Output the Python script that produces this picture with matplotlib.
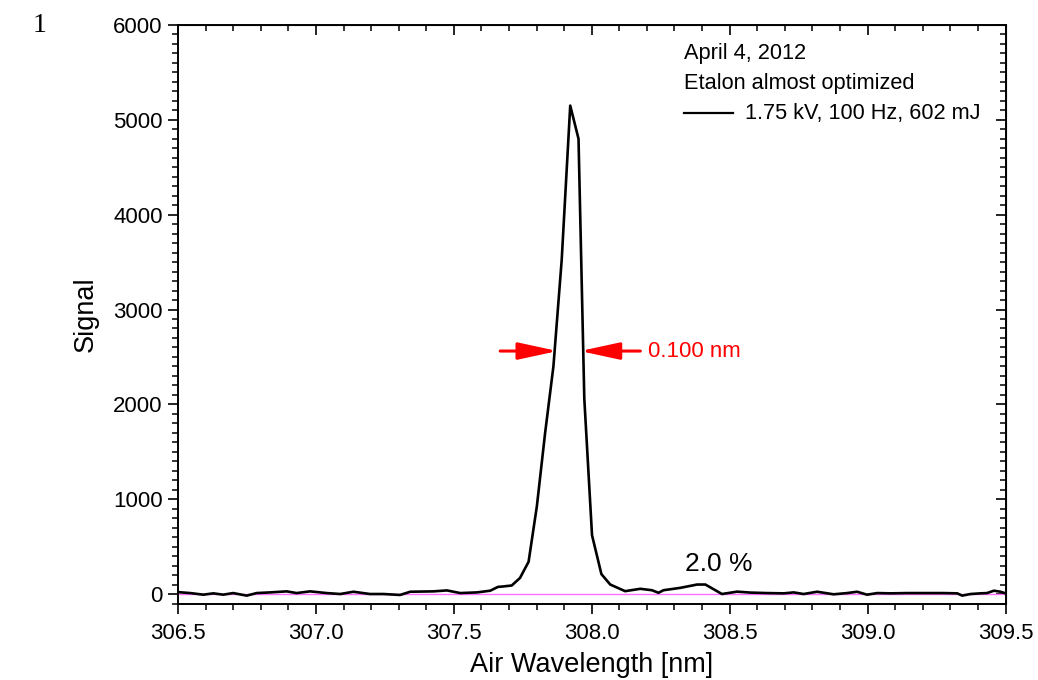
import matplotlib
matplotlib.use("Agg")
import matplotlib.pyplot as plt
from matplotlib.lines import Line2D
from matplotlib.ticker import MultipleLocator

plt.rcParams['font.family'] = ['Liberation Sans', 'DejaVu Sans']

wavelength = [306.50, 306.544, 306.592, 306.628, 306.664, 306.70, 306.749, 306.785,
              306.834, 306.894, 306.93, 306.979, 307.039, 307.088, 307.136, 307.196,
              307.245, 307.305, 307.342, 307.426, 307.475, 307.523, 307.584, 307.632,
              307.66, 307.68, 307.71, 307.74, 307.771, 307.801, 307.831, 307.861,
              307.891, 307.922, 307.952, 307.973, 308.001, 308.035, 308.067, 308.121,
              308.176, 308.218, 308.242, 308.26, 308.321, 308.382, 308.412, 308.472,
              308.527, 308.575, 308.636, 308.696, 308.732, 308.768, 308.817, 308.877,
              308.926, 308.962, 308.998, 309.035, 309.083, 309.143, 309.204, 309.276,
              309.325, 309.343, 309.373, 309.409, 309.433, 309.458, 309.482, 309.50]
signal = [20, 10, -7, 7, -7, 10, -17, 10,
          17, 28, 10, 28, 10, 0, 24, 0,
          0, -10, 24, 28, 38, 10, 17, 35,
          75, 80, 90, 170, 340, 925, 1700, 2400,
          3520, 5150, 4800, 2060, 620, 210, 100, 30,
          55, 40, 13, 40, 65, 100, 100, 0,
          25, 15, 10, 7, 17, 0, 24, -3,
          10, 24, -7, 10, 7, 10, 10, 10,
          7, -17, 0, 7, 10, 35, 24, 7]

legend_lines = ["April 4, 2012", "Etalon almost optimized"]
series_label = "1.75 kV, 100 Hz, 602 mJ"
fwhm_text = "0.100 nm"
ratio_text = "2.0 %"
xticks = [306.5, 307.0, 307.5, 308.0, 308.5, 309.0, 309.5]
yticks = [0, 1000, 2000, 3000, 4000, 5000, 6000]

# annotation geometry
half_max = 2562
left_arrow = (307.668, 307.876)
right_arrow = (308.176, 307.958)

W, H = 1038, 680
fig = plt.figure(figsize=(W / 100, H / 100), dpi=100)
ax = fig.add_axes([178 / W, 1 - 603.5 / H, (1005.5 - 178) / W, (603.5 - 25) / H])

ax.axhline(0, color='#ff70ff', lw=1.0, zorder=1)
line, = ax.plot(wavelength, signal, color='black', lw=1.9, zorder=3)

ax.set_xlim(306.5, 309.5)
ax.set_ylim(-100, 6000)
ax.set_xticks(xticks)
ax.set_xticklabels([f"{t:.1f}" for t in xticks])
ax.set_yticks(yticks)
ax.xaxis.set_minor_locator(MultipleLocator(0.1))
ax.yaxis.set_minor_locator(MultipleLocator(100))

for s in ax.spines.values():
    s.set_linewidth(1.4)

ax.tick_params(axis='both', which='major', direction='out', length=7, width=1.2,
               labelsize=16)
ax.tick_params(axis='x', which='major', pad=7)
ax.tick_params(axis='y', which='major', pad=4)
ax.tick_params(axis='both', which='minor', direction='out', length=4, width=1.1)
# inward ticks on top and right
ax2 = ax.secondary_xaxis('top')
ax2.set_xticks(xticks)
ax2.xaxis.set_minor_locator(MultipleLocator(0.1))
ax2.tick_params(which='major', direction='in', length=7, width=1.2, labeltop=False)
ax2.tick_params(which='minor', direction='in', length=4, width=1.1)
ax2.set_xticklabels([])
ay2 = ax.secondary_yaxis('right')
ay2.set_yticks(yticks)
ay2.yaxis.set_minor_locator(MultipleLocator(100))
ay2.tick_params(which='major', direction='in', length=7, width=1.2)
ay2.tick_params(which='minor', direction='in', length=4, width=1.1)
ay2.set_yticklabels([])

ax.set_xlabel("Air Wavelength [nm]", fontsize=19.5, labelpad=6)
ax.set_ylabel("Signal", fontsize=19.5, labelpad=10)

# FWHM arrows
arrowprops = dict(arrowstyle='-|>,head_length=1.2,head_width=0.26', color='red', lw=2.2,
                  shrinkA=0, shrinkB=0, mutation_scale=20)
ax.annotate('', xy=(left_arrow[1], half_max), xytext=(left_arrow[0], half_max),
            arrowprops=arrowprops, zorder=4)
ax.annotate('', xy=(right_arrow[1], half_max), xytext=(right_arrow[0], half_max),
            arrowprops=arrowprops, zorder=4)
ax.text(308.205, half_max, fwhm_text, color='red', fontsize=16, va='center', ha='left')

ax.text(308.46, 316, ratio_text, fontsize=19, ha='center', va='center')

# legend block (manual)
fs_leg = 15.7
fig.text(684 / W, 1 - 53 / H, legend_lines[0], fontsize=fs_leg, ha='left', va='center')
fig.text(684 / W, 1 - 84 / H, legend_lines[1], fontsize=fs_leg, ha='left', va='center')
fig.add_artist(Line2D([684 / W, 733 / W], [1 - 113 / H, 1 - 113 / H],
                      transform=fig.transFigure, color='black', lw=1.6))
fig.text(745 / W, 1 - 113 / H, series_label, fontsize=fs_leg, ha='left', va='center')

fig.text(40 / W, 1 - 26 / H, "1", family='Liberation Serif', fontsize=20,
         ha='center', va='center')

fig.savefig("out.png", dpi=100)
